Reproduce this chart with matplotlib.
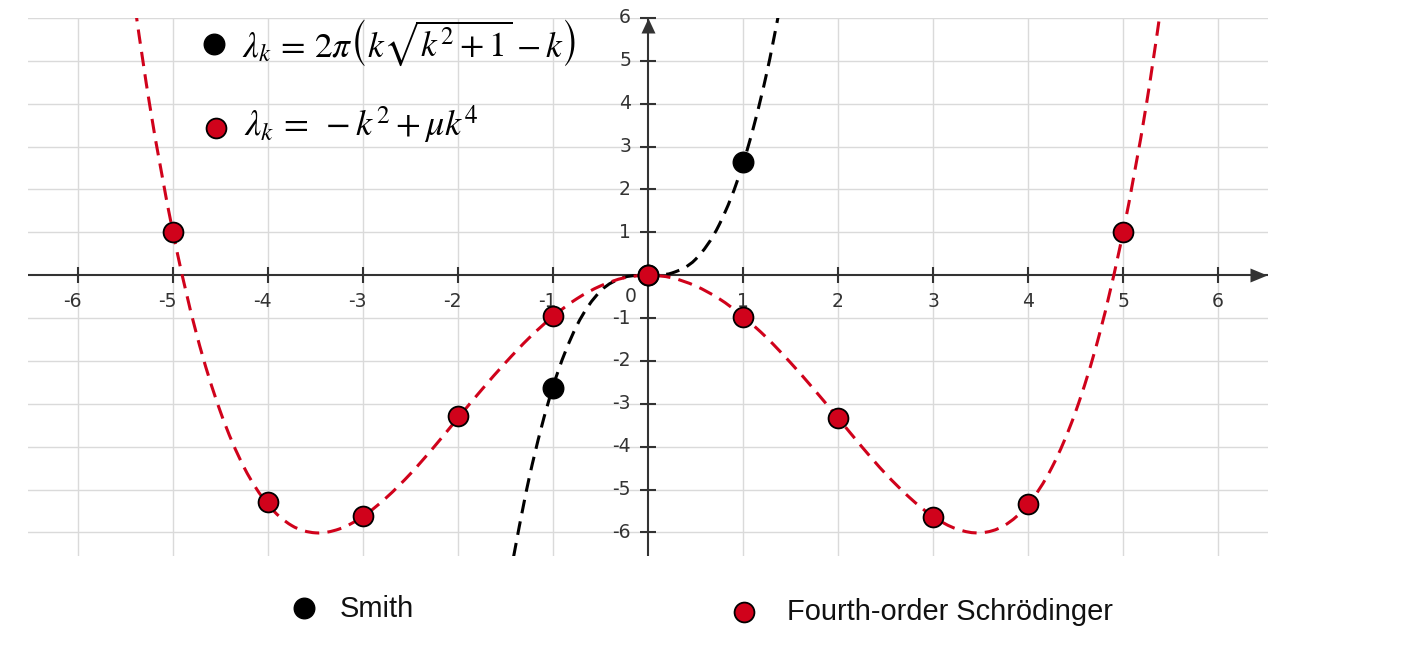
import matplotlib
matplotlib.use("Agg")
import matplotlib.pyplot as plt
from matplotlib.path import Path
from matplotlib.patches import PathPatch
from matplotlib.transforms import ScaledTranslation
import numpy as np

# ---------------- data ----------------
series_names = ["Smith", "Fourth-order Schrödinger"]

# dashed curve samples
smith_curve_k = [-1.5, -1.25, -1.0, -0.75, -0.5, -0.25, 0.0, 0.25, 0.5, 0.75, 1.0, 1.25, 1.5]
smith_curve_l = [-7.57, -4.72, -2.60, -1.18, -0.37, -0.05, 0.0, 0.05, 0.37, 1.18, 2.60, 4.72, 7.57]

schr_curve_k = [-5.5, -5.25, -5.0, -4.75, -4.5, -4.25, -4.0, -3.75, -3.5, -3.25, -3.0,
                -2.75, -2.5, -2.25, -2.0, -1.75, -1.5, -1.25, -1.0, -0.75, -0.5, -0.25,
                0.0, 0.25, 0.5, 0.75, 1.0, 1.25, 1.5, 1.75, 2.0, 2.25, 2.5, 2.75, 3.0,
                3.25, 3.5, 3.75, 4.0, 4.25, 4.5, 4.75, 5.0, 5.25, 5.5]
schr_curve_l = [7.82, 4.04, 1.00, -1.39, -3.19, -4.49, -5.35, -5.84, -6.01, -5.92, -5.63,
                -5.18, -4.63, -4.00, -3.33, -2.67, -2.04, -1.46, -0.96, -0.55, -0.25, -0.06,
                0.0, -0.06, -0.25, -0.55, -0.96, -1.46, -2.04, -2.67, -3.33, -4.00, -4.63,
                -5.18, -5.63, -5.92, -6.01, -5.84, -5.35, -4.49, -3.19, -1.39, 1.00, 4.04, 7.82]

# marker points
smith_k = [-1, 0, 1]
smith_l = [-2.64, 0.0, 2.64]
schr_k = [-5, -4, -3, -2, -1, 0, 1, 2, 3, 4, 5]
schr_l = [1.00, -5.30, -5.62, -3.29, -0.94, 0.0, -0.97, -3.33, -5.65, -5.33, 1.00]

x_ticks = [-6, -5, -4, -3, -2, -1, 1, 2, 3, 4, 5, 6]
y_ticks = [-6, -5, -4, -3, -2, -1, 1, 2, 3, 4, 5, 6]
formula_smith = r"$\lambda_k\, =\, 2\pi\left(k\sqrt{k^2+1}-k\right)$"
formula_schr = r"$\lambda_k\, =\; -k^2+\mu k^4$"

# ---------------- style ----------------
RED = "#d0021b"
BLACK = "#000000"
AXC = "#333333"
GRIDC = "#dadada"
W, H = 1404, 672

plt.rcParams["mathtext.fontset"] = "stix"

fig = plt.figure(figsize=(W / 100, H / 100), dpi=100)
ax = fig.add_axes([28 / W, (H - 556) / H, 1240 / W, 538 / H])
ax.set_xlim(-6.526, 6.526)
ax.set_ylim(-6.55, 6.0)
for s in ax.spines.values():
    s.set_visible(False)
ax.set_xticks(x_ticks)
ax.set_yticks(y_ticks)
ax.tick_params(length=0, labelbottom=False, labelleft=False)
ax.grid(True, color=GRIDC, lw=1.0)
ax.set_axisbelow(True)


def smooth_path(xs, ys):
    """Catmull-Rom spline through the points as cubic Bezier segments."""
    pts = np.column_stack([xs, ys]).astype(float)
    n = len(pts)
    verts = [pts[0]]
    codes = [Path.MOVETO]
    for i in range(n - 1):
        p0 = pts[i - 1] if i > 0 else pts[i]
        p1 = pts[i]
        p2 = pts[i + 1]
        p3 = pts[i + 2] if i + 2 < n else pts[i + 1]
        c1 = p1 + (p2 - p0) / 6.0
        c2 = p2 - (p3 - p1) / 6.0
        verts += [c1, c2, p2]
        codes += [Path.CURVE4] * 3
    return Path(verts, codes)


# axes lines
ax.axhline(0, color=AXC, lw=1.5, zorder=2)
ax.axvline(0, color=AXC, lw=1.5, zorder=2)
ax.plot(x_ticks, [0] * len(x_ticks), ls="none", marker="|", ms=11, mew=1.5,
        color=AXC, zorder=2, clip_on=False)
ax.plot([0] * len(y_ticks), y_ticks, ls="none", marker="_", ms=11.5, mew=1.5,
        color=AXC, zorder=2, clip_on=False)
# arrow heads
arrow_r = Path([[0, 0], [-17, 7], [-17, -7], [0, 0]])
arrow_u = Path([[0, 0], [-7, -15], [7, -15], [0, 0]])
ax.plot([6.516], [0], marker=arrow_r, ms=24.5, color=AXC, mew=0, zorder=3, clip_on=False)
ax.plot([0], [6.0], marker=arrow_u, ms=21.6, color=AXC, mew=0, zorder=3, clip_on=False)

# tick labels
px = 1 / 100.0
TFS = 13.5
for t in x_ticks:
    dx = -5.5 if t < 0 else 0.0
    tr = ax.transData + ScaledTranslation(dx * px, -26.5 * px, fig.dpi_scale_trans)
    ax.text(t, 0, str(t), transform=tr, ha="center", va="center",
            fontsize=TFS, color=AXC, family="DejaVu Sans")
for t in y_ticks:
    tr = ax.transData + ScaledTranslation(-17 * px, 0, fig.dpi_scale_trans)
    ax.text(0, t, str(t), transform=tr, ha="right", va="center",
            fontsize=TFS, color=AXC, family="DejaVu Sans")
tr0 = ax.transData + ScaledTranslation(-17 * px, -21.5 * px, fig.dpi_scale_trans)
ax.text(0, 0, "0", transform=tr0, ha="center", va="center",
        fontsize=TFS, color=AXC, family="DejaVu Sans")

# curves
ax.add_patch(PathPatch(smooth_path(smith_curve_k, smith_curve_l), fill=False,
                       ec=BLACK, lw=2.2, ls=(0, (4.5, 2.7)), capstyle="butt", zorder=4))
ax.add_patch(PathPatch(smooth_path(schr_curve_k, schr_curve_l), fill=False,
                       ec=RED, lw=2.2, ls=(0, (4.7, 2.7)), capstyle="butt", zorder=4))

# points
ax.plot(smith_k, smith_l, ls="none", marker="o", ms=14.8, mfc=BLACK, mec=BLACK,
        mew=1.0, zorder=5)
ax.plot(schr_k, schr_l, ls="none", marker="o", ms=14.3, mfc=RED, mec=BLACK,
        mew=1.3, zorder=6)


def fp(x, y):
    return x / W, 1 - y / H


# in-plot formula legend
ax.plot(*[[v] for v in fp(214, 43.7)], transform=fig.transFigure, marker="o", ms=14.8,
        mfc=BLACK, mec=BLACK, mew=1.0, ls="none", clip_on=False, zorder=7)
ax.plot(*[[v] for v in fp(216, 128.3)], transform=fig.transFigure, marker="o", ms=14.3,
        mfc=RED, mec=BLACK, mew=1.3, ls="none", clip_on=False, zorder=7)
fig.text(*fp(242, 56.5), formula_smith, fontsize=25.5, ha="left", va="baseline", color="#000")
fig.text(*fp(244, 136.5), formula_schr, fontsize=26, ha="left", va="baseline", color="#000")

# bottom legend
ax.plot(*[[v] for v in fp(304, 608)], transform=fig.transFigure, marker="o", ms=14.8,
        mfc=BLACK, mec=BLACK, mew=1.0, ls="none", clip_on=False)
ax.plot(*[[v] for v in fp(744, 611.5)], transform=fig.transFigure, marker="o", ms=14.3,
        mfc=RED, mec=BLACK, mew=1.3, ls="none", clip_on=False)
fig.text(*fp(340, 609), series_names[0], fontsize=20.9, ha="left", va="center",
         family="Liberation Sans", color="#111")
fig.text(*fp(787, 611.5), series_names[1], fontsize=20.9, ha="left", va="center",
         family="Liberation Sans", color="#111")

fig.savefig("out.png", dpi=100)
